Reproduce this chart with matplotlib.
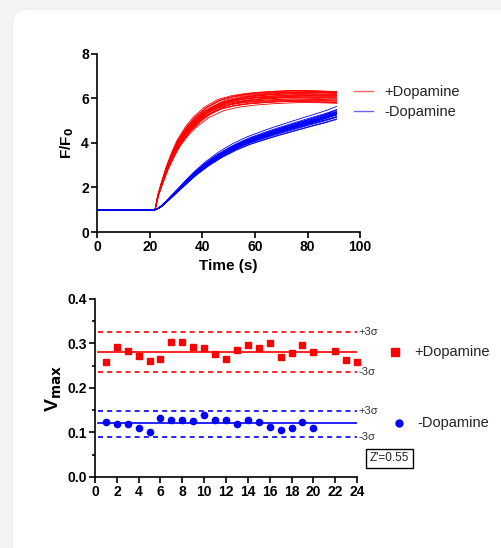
import numpy as np
import matplotlib
matplotlib.use('Agg')
import matplotlib.pyplot as plt
from matplotlib.patches import FancyBboxPatch
from matplotlib.lines import Line2D

plt.rcParams['font.family'] = ['Liberation Sans', 'DejaVu Sans']

# upper envelope of the kinetic traces (time in s, F/F0)
t_pts = [0, 22, 23, 24, 26, 28, 30, 33, 36, 40, 45, 50, 55, 60, 65, 70, 75, 80, 85, 91]
red_top = [1.0, 1.0, 1.65, 2.1, 2.9, 3.55, 4.1, 4.7, 5.15, 5.6, 5.95, 6.12, 6.22, 6.28,
           6.32, 6.35, 6.35, 6.33, 6.3, 6.3]
blue_top = [1.0, 1.0, 1.06, 1.14, 1.38, 1.65, 1.9, 2.3, 2.68, 3.12, 3.58, 3.95, 4.25, 4.48,
            4.7, 4.9, 5.1, 5.28, 5.48, 5.78]
# per-trace spread: amplitude factor, time-stretch factor
red_amp = [0.9, 0.99, 0.93, 1.0, 0.95, 0.97, 0.91, 0.96, 1.0, 0.94, 0.98, 0.92,
           0.99, 0.93, 0.965, 1.0, 0.95, 0.975, 0.92, 0.99, 0.96, 0.91, 0.985, 0.945]
red_k = [0.88, 0.82, 0.96, 0.9, 1.0, 0.85, 0.94, 0.8, 0.92, 0.98, 0.84, 0.9,
         0.95, 0.93, 0.87, 0.97, 0.83, 0.91, 1.0, 0.88, 0.94, 0.96, 0.86, 0.92]
blue_amp = [0.91, 1.0, 0.94, 0.97, 0.92, 0.99, 0.95, 0.9, 1.0, 0.94, 0.98, 0.92,
            0.96, 0.99, 0.915, 0.95, 1.0, 0.93, 0.97, 0.905, 0.955, 0.985, 0.94, 0.9]
blue_k = [0.94, 0.88, 1.0, 0.91, 0.96, 0.86, 0.98, 0.92, 0.89, 0.95, 0.87, 0.97,
          0.9, 0.93, 1.0, 0.88, 0.96, 0.92, 0.89, 0.99, 0.94, 0.86, 0.97, 0.93]

# Vmax per well
red_x = [1, 2, 3, 4, 5, 6, 7, 8, 9, 10, 11, 12, 13, 14, 15, 16, 17, 18, 19, 20, 22, 23, 24]
red_v = [0.258, 0.293, 0.284, 0.272, 0.260, 0.265, 0.303, 0.303, 0.291, 0.290, 0.276, 0.265,
         0.286, 0.296, 0.290, 0.300, 0.270, 0.279, 0.297, 0.280, 0.282, 0.262, 0.258]
blue_x = list(range(1, 21))
blue_v = [0.124, 0.118, 0.119, 0.110, 0.101, 0.133, 0.128, 0.127, 0.125, 0.139,
          0.127, 0.127, 0.120, 0.128, 0.124, 0.113, 0.106, 0.110, 0.124, 0.109]
red_mean_line, red_hi, red_lo = 0.281, 0.325, 0.237
blue_mean_line, blue_hi, blue_lo = 0.122, 0.148, 0.090
zprime = "Z'=0.55"

fig = plt.figure(figsize=(5.01, 5.48), dpi=100)
fig.patch.set_facecolor('#f4f4f4')
card = FancyBboxPatch((0.025, -0.05), 1.1, 1.033, boxstyle='round,pad=0,rounding_size=0.03',
                      transform=fig.transFigure, facecolor='white', edgecolor='#eeeeee',
                      lw=0.8, zorder=-10)
fig.patches.append(card)


def style(ax):
    for s in ['top', 'right']:
        ax.spines[s].set_visible(False)
    for s in ['left', 'bottom']:
        ax.spines[s].set_linewidth(1.2)
    ax.tick_params(width=1.2, length=4, direction='out', labelsize=10, pad=2)
    for lab in ax.get_xticklabels() + ax.get_yticklabels():
        lab.set_fontweight('bold')
    ax.set_facecolor('none')


# ---- top panel: kinetic traces
ax1 = fig.add_axes([0.194, 0.5766, 0.525, 0.325])
tt = np.linspace(0, 91, 400)
tw = np.clip(tt - 22, 0, None)
for a, k in zip(red_amp, red_k):
    y = 1 + (np.interp(22 + tw * k, t_pts, red_top) - 1) * a
    ax1.plot(tt, y, color='#ff0000', lw=0.6)
for a, k in zip(blue_amp, blue_k):
    y = 1 + (np.interp(22 + tw * k, t_pts, blue_top) - 1) * a
    ax1.plot(tt, y, color='#0000ff', lw=0.6)
ax1.set_xlim(0, 100)
ax1.set_ylim(0, 8)
ax1.set_xticks([0, 20, 40, 60, 80, 100])
ax1.set_yticks([0, 2, 4, 6, 8])
style(ax1)
ax1.set_xlabel('Time (s)', fontsize=11, fontweight='bold', labelpad=3)
ax1.set_ylabel('F/F$_\\mathbf{0}$', fontsize=11, fontweight='bold', labelpad=4)
leg_h = [Line2D([], [], color='#ff6666', lw=1), Line2D([], [], color='#6666ff', lw=1)]
ax1.legend(leg_h, ['+Dopamine', '-Dopamine'], loc='upper left', bbox_to_anchor=(0.925, 0.9),
           frameon=False, fontsize=10.5, handlelength=1.3, labelspacing=0.4,
           labelcolor='#222222')

# ---- bottom panel: Vmax plate plot
ax2 = fig.add_axes([0.1896, 0.1296, 0.523, 0.3248])
ax2.plot(red_x, red_v, 's', color='#ff0000', ms=5, ls='none', clip_on=False)
ax2.plot(blue_x, blue_v, 'o', color='#0000ff', ms=4.5, ls='none', clip_on=False)
x0, x1 = 0.3, 24.0
dash = (0, (3, 2.5))
ax2.plot([x0, x1], [red_mean_line] * 2, color='#ff0000', lw=1.2)
ax2.plot([x0, x1], [red_hi] * 2, color='#ff0000', lw=1.2, ls=dash)
ax2.plot([x0, x1], [red_lo] * 2, color='#ff0000', lw=1.2, ls=dash)
ax2.plot([x0, x1], [blue_mean_line] * 2, color='#0000ff', lw=1.2)
ax2.plot([x0, x1], [blue_hi] * 2, color='#0000ff', lw=1.2, ls=dash)
ax2.plot([x0, x1], [blue_lo] * 2, color='#0000ff', lw=1.2, ls=dash)
for yv, txt in [(red_hi, '+3σ'), (red_lo, '-3σ'), (blue_hi, '+3σ'), (blue_lo, '-3σ')]:
    ax2.text(24.1, yv, txt, fontsize=8, color='#333333', va='center', ha='left',
             clip_on=False)
ax2.set_xlim(0, 24)
ax2.set_ylim(0, 0.4)
ax2.set_xticks(range(0, 25, 2))
ax2.set_yticks([0.0, 0.1, 0.2, 0.3, 0.4])
ax2.set_yticks([0.05, 0.15, 0.25, 0.35], minor=True)
ax2.tick_params(which='minor', length=2.5, width=1.2)
style(ax2)
ax2.set_yticklabels(['0.0', '0.1', '0.2', '0.3', '0.4'], fontweight='bold')
ax2.set_ylabel('V$_{\\mathbf{max}}$', fontsize=14, fontweight='bold', labelpad=2)
fig.add_artist(Line2D([0.788], [0.358], marker='s', color='#ff0000', ms=6, ls='none',
                      transform=fig.transFigure))
fig.text(0.826, 0.358, '+Dopamine', color='#222222', fontsize=10.5, ha='left', va='center')
fig.add_artist(Line2D([0.796], [0.228], marker='o', color='#0000ff', ms=5, ls='none',
                      transform=fig.transFigure))
fig.text(0.834, 0.228, '-Dopamine', color='#222222', fontsize=10.5, ha='left', va='center')
fig.text(0.738, 0.164, zprime, fontsize=8.5, color='#222222', ha='left', va='center',
         bbox=dict(boxstyle='square,pad=0.3', facecolor='white', edgecolor='black', lw=1))

fig.savefig('out.png', dpi=100, facecolor=fig.get_facecolor())
